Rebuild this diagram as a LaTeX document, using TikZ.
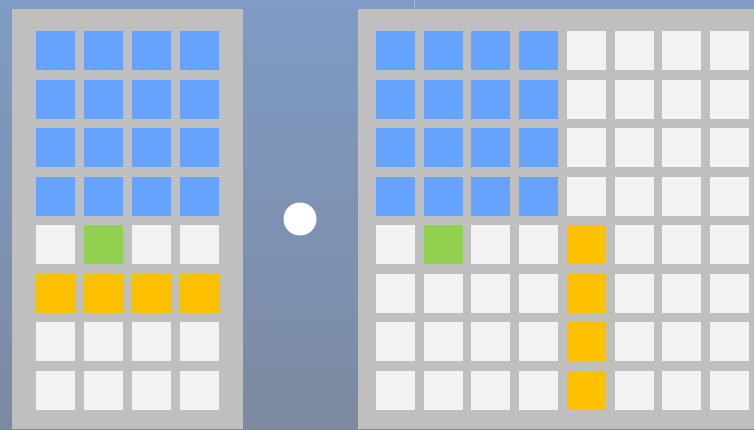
\documentclass[tikz,border=0pt]{standalone}
\definecolor{bgtop}{RGB}{127,155,198}
\definecolor{bgbot}{RGB}{124,138,160}
\definecolor{panel}{RGB}{191,191,191}
\definecolor{cblue}{RGB}{102,163,255}
\definecolor{cgreen}{RGB}{146,208,80}
\definecolor{corange}{RGB}{255,192,0}
\definecolor{cgray}{RGB}{242,242,242}
\definecolor{seam}{RGB}{160,185,225}
\tikzset{
  cell/.style={rectangle, inner sep=0pt, outer sep=0pt, minimum width=39pt, minimum height=39pt, anchor=north west, draw=none},
}
\begin{document}
\begin{tikzpicture}[x=1pt,y=-1pt]
\useasboundingbox (0,0) rectangle (754,429);
\shade[top color=bgtop, bottom color=bgbot] (0,0) rectangle (754,429);
\draw[seam, line width=1pt] (414.5,0) -- (414.5,9);
% panels
\fill[panel] (12,9) rectangle (243,429);
\fill[panel] (358,9) rectangle (754,429);
% left grid
\foreach \r in {0,...,7}{
  \foreach \c in {0,...,3}{
    \pgfmathsetmacro{\xx}{36+48*\c}
    \pgfmathsetmacro{\yy}{31+48.57*\r}
    \ifnum\r<4 \def\col{cblue}\else
      \ifnum\r=5 \def\col{corange}\else
        \def\col{cgray}\fi\fi
    \ifnum\r=4 \ifnum\c=1 \def\col{cgreen}\fi\fi
    \node[cell, fill=\col] (L-\r-\c) at (\xx,\yy) {};
  }
}
% right grid
\foreach \r in {0,...,7}{
  \foreach \c in {0,...,7}{
    \pgfmathsetmacro{\xx}{376+47.714*\c}
    \pgfmathsetmacro{\yy}{31+48.57*\r}
    \def\col{cgray}
    \ifnum\r<4 \ifnum\c<4 \def\col{cblue}\fi\fi
    \ifnum\r>3 \ifnum\c=4 \def\col{corange}\fi\fi
    \ifnum\r=4 \ifnum\c=1 \def\col{cgreen}\fi\fi
    \node[cell, fill=\col] (R-\r-\c) at (\xx,\yy) {};
  }
}
% operator dot
\node[circle, fill=white, inner sep=0pt, minimum size=33pt] (dot) at (300,219) {};
\end{tikzpicture}
\end{document}
